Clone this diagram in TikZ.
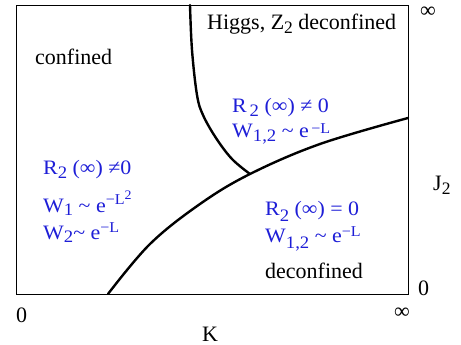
\documentclass[tikz,border=0pt]{standalone}
\usepackage{fontspec}
\setmainfont{Liberation Serif}
\newfontfamily\bluefont[FakeStretch=1.07]{Liberation Serif}
\definecolor{phblue}{RGB}{30,30,215}
\newcommand\sbs[2][4pt]{\raisebox{-#1}{\fontsize{17.5}{17.5}\selectfont #2}}
\newcommand\sps[2][5pt]{\smash{\raisebox{#1}{\fontsize{15}{15}\selectfont #2}}}
\newcommand\ssps[1]{\raisebox{5pt}{\fontsize{13}{13}\selectfont #1}}
\begin{document}
\begin{tikzpicture}[x=1pt,y=-1pt,
  lbl/.style={inner sep=0pt,font=\fontsize{22}{22}\selectfont},
  blu/.style={inner sep=0pt,font=\bluefont\fontsize{20.5}{20.5}\selectfont,text=phblue,anchor=base west},
  blk/.style={lbl,anchor=base west},
  phase/.style={line width=2.4pt,line cap=round}]
\useasboundingbox (0,0) rectangle (461,345);
\draw[line width=0.9pt] (16,5) rectangle (408,294);
% phase boundaries
\coordinate (jn) at (250,174);
\draw[phase] plot[smooth,tension=0.6] coordinates {(190,5) (192,50) (197,95) (203,115) (216,138) (232,159) (jn)};
\draw[phase] plot[smooth,tension=0.6] coordinates {(108,294) (150,244) (200,204) (jn) (320,144) (408,118)};
% texts
\node[blk] (higgs) at (207,30) {Higgs, Z\sbs{2} deconfined};
\node[blk] (conf) at (35,65) {confined};
\node[blk] (deconf) at (265,278) {deconfined};
\node[blu] (ur1) at (232,113) {R\sbs{\,2} (∞) ≠ 0};
\node[blu] (ur2) at (232,137) {W\sbs[5pt]{1,2} \textasciitilde\ e\sps[3.5pt]{\,−L}};
\node[blu] (l1) at (43,175) {R\sbs[3pt]{2} (∞) ≠0};
\node[blu] (l2) at (43,212) {W\sbs[3pt]{1} \textasciitilde\ e\sps[8pt]{−L\ssps{2}}};
\node[blu] (l3) at (43,239) {W\sbs[3pt]{2}\textasciitilde\ e\sps[7pt]{−L}};
\node[blu] (lr1) at (265,215) {R\sbs[6pt]{2} (∞) = 0};
\node[blu] (lr2) at (265,242) {W\sbs[6pt]{1,2} \textasciitilde\ e\sps[6pt]{−L}};
% axis labels
\node[lbl] (inftop) at (428,12) {∞};
\node[blk] (j2) at (433,190) {J\sbs{2}};
\node[blk] (zr) at (418,295) {0};
\node[blk] (zb) at (16,322) {0};
\node[lbl] (infb) at (402,313) {∞};
\node[blk] (k) at (202,341) {K};
\end{tikzpicture}
\end{document}
